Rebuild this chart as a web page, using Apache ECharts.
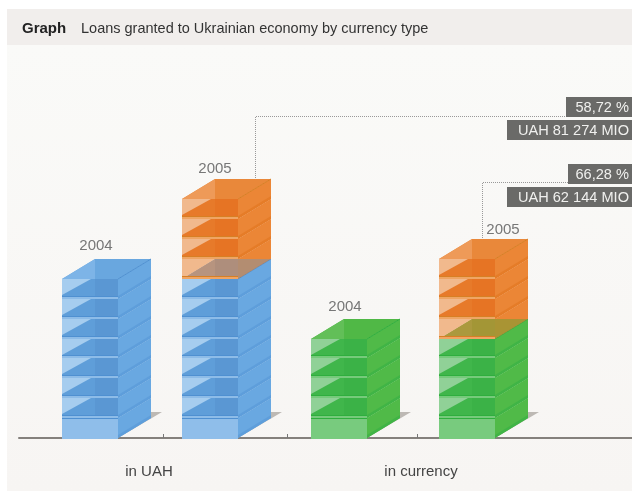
<!DOCTYPE html>
<html><head><meta charset="utf-8">
<script src="https://cdn.jsdelivr.net/npm/echarts@6/dist/echarts.min.js"></script>
<style>html,body{margin:0;padding:0;background:#fff}#c{width:632px;height:491px}</style></head>
<body><div id="c"></div>
<script>
// ---- data (heights read as number of stacked blocks) ----
const groups = ['in UAH', 'in currency'];
const years = ['2004', '2005', '2004', '2005'];
const baseBlocks = [8, 8, 5, 5];
const growthBlocks = [0, 4, 0, 4];
const percentLabels = ['58,72 %', '66,28 %'];
const amountLabels = ['UAH 81 274 MIO', 'UAH 62 144 MIO'];

// ---- layout / style (separate from data) ----
const W = 56, DX = 33, DY = 20;
const barNudge = [6, 1, 5, 8];
const yearDx = [34, 33, 34, 64];
const yearGap = [13, 10, 12, 9];
const leaders = {1: {dx: 73, y: 116, end: 566}, 3: {dx: 43, y: 182, end: 568}};
const pal = {
  blue:   {top:'#69a7df', topL:'#7db4e7', side:'#69a8e1', sideLow:'#5e9edb', front:'#5f9ed9', back:'#5a97d3', gloss:'#a6cdef', low:'#8fbeea', gap:'#8dbce8', edge:'#4f90d1', hi:'#dbe9f6'},
  green:  {top:'#50b846', topL:'#62bf58', side:'#50ba48', sideLow:'#40b446', front:'#40b64b', back:'#3bb247', gloss:'#90d197', low:'#78cb7e', gap:'#76ca7b', edge:'#2fae3e', hi:'#d5ecd5'},
  orange: {top:'#e9883a', topL:'#ee9a58', side:'#eb8636', sideLow:'#e57c28', front:'#e77a2a', back:'#e67424', gloss:'#f1b98d', low:'#f1bb90', gap:'#efa564', edge:'#d77f24', hi:'#f6dcc0'}
};
const baseColor = ['blue', 'blue', 'green', 'green'];

function poly(points, fill, opacity) {
  return {type:'polygon', shape:{points}, style:{fill, opacity: opacity == null ? 1 : opacity}, silent:true};
}
function rect(x, y, width, height, fill) {
  return {type:'rect', shape:{x, y, width, height}, style:{fill}, silent:true};
}
function stackRenderer(kind) {
  return function (params, api) {
    const i = api.value(0), start = api.value(1), end = api.value(2);
    const out = [];
    if (end <= start) return {type:'group', children:out};
    const cx = api.coord([i + 0.5, 0])[0];
    const x0 = Math.round(cx - (W + DX) / 2 + barNudge[i]), x1 = x0 + W;
    const c = pal[kind === 'growth' ? 'orange' : baseColor[i]];
    if (kind === 'base') {
      const by = api.coord([0, 0])[1];
      out.push(poly([[x1, by], [x1 + DX + 11, by - 26], [x1 + DX, by - 26]], '#bdb9b4'));
    }
    for (let k = start; k < end; k++) {
      const yb = Math.round(api.coord([0, k])[1]), yt = Math.round(api.coord([0, k + 1])[1]);
      const overlay = kind === 'growth' && k === start;
      const first = kind === 'base' && k === start;
      // side face
      if (overlay) {
        out.push(poly([[x1, yt], [x1 + DX, yt], [x1 + DX, yt - DY]], c.side));
        out.push(poly([[x1, yb], [x1 + DX, yt], [x1, yt]], c.sideLow, 0.6));
      } else {
        out.push(poly([[x1, yb], [x1 + DX, yb - DY], [x1 + DX, yt - DY], [x1, yt]], c.side));
        out.push(poly([[x1, yb], [x1 + DX, yb - DY], [x1 + DX, yb - DY - 3], [x1, yb - 3]], c.sideLow));
      }
      // front face
      if (overlay) {
        out.push(poly([[x0, yt], [x0 + DX, yt], [x0, yb]], c.gloss));
        out.push(poly([[x0, yb], [x1, yb], [x1, yt], [x0 + DX, yt]], c.front, 0.55));
      } else if (first) {
        out.push(rect(x0, yt, W, yb - yt + 1, c.low));
        out.push(rect(x0, yt, W, 1, c.edge));
      } else {
        out.push(rect(x0, yt, W, yb - yt, c.front));
        out.push(poly([[x0, yt], [x0 + 29, yt], [x0, yt + 16]], c.gloss));
        out.push(rect(x0 + DX, yt, W - DX, yb - yt - 2, c.back));
      }
      // separators between blocks
      if (!first) {
        out.push(rect(x0, yb - 3, W, 1, c.edge));
        out.push(rect(x0, yb - 2, W, 2, c.gap));
      }
      if (k === end - 1) {
        out.push(poly([[x0, yt], [x1, yt], [x1 + DX, yt - DY], [x0 + DX, yt - DY]], c.top));
        out.push(poly([[x0, yt], [x0 + DX, yt - DY], [x0 + DX, yt]], c.topL));
        out.push({type:'line', shape:{x1:x1, y1:yt, x2:x1 + DX, y2:yt - DY}, style:{stroke:c.edge, lineWidth:1}, silent:true});
      }
    }
    const isTopOfBar = kind === 'growth' || growthBlocks[i] === 0;
    if (isTopOfBar) {
      const ty = Math.round(api.coord([0, end])[1]) - DY;
      out.push({type:'text', style:{text: years[i], x: x0 + yearDx[i], y: ty - yearGap[i], align:'center', verticalAlign:'middle',
        fill:'#777', font:'15px "Liberation Sans"'}, silent:true});
      const l = leaders[i];
      if (l) {
        out.push({type:'polyline', shape:{points:[[x0 + l.dx + 0.5, ty - 1], [x0 + l.dx + 0.5, l.y + 0.5], [l.end, l.y + 0.5]]},
          style:{stroke:'#999', lineWidth:1, lineDash:[1, 1], fill:null}, silent:true});
      }
    }
    return {type:'group', children:out};
  };
}

const idx = years.map((_, i) => i);
const baseData = idx.map(i => [i, 0, baseBlocks[i]]);
const growthData = idx.map(i => [i, baseBlocks[i], baseBlocks[i] + growthBlocks[i]]);

function box(x, y, w, h, label) {
  return {type:'group', silent:true, children:[
    {type:'rect', shape:{x, y, width:w, height:h}, style:{fill:'#6a6a68'}},
    {type:'text', style:{text:label, x:629, y:y + h / 2 + 0.5, align:'right', verticalAlign:'middle', fill:'#f0f0ee', font:'14.6px "Liberation Sans"'}}
  ]};
}

const chart = echarts.init(document.getElementById('c'), null, {renderer:'canvas'});
chart.setOption({
  animation:false,
  backgroundColor:'#fff',
  graphic:[
    {type:'rect', z:-10, silent:true, shape:{x:7, y:45, width:625, height:446},
     style:{fill:new echarts.graphic.LinearGradient(0,0,0,1,[{offset:0,color:'#fafaf8'},{offset:1,color:'#f7f5f3'}])}},
    {type:'rect', z:-10, silent:true, shape:{x:7, y:9, width:625, height:36}, style:{fill:'#f1eeec'}},
    {type:'text', silent:true, style:{text:'Graph', x:22, y:29, verticalAlign:'middle', fill:'#222', font:'bold 15px "Liberation Sans"'}},
    {type:'text', silent:true, style:{text:'Loans granted to Ukrainian economy by currency type', x:81, y:29, verticalAlign:'middle', fill:'#333', font:'14.5px "Liberation Sans"'}},
    box(566, 97, 66, 20, percentLabels[0]),
    box(507, 120, 125, 20, amountLabels[0]),
    box(568, 164, 64, 20, percentLabels[1]),
    box(507, 187, 125, 20, amountLabels[1])
  ],
  grid:[
    {left:19, width:613, top:40, height:398, containLabel:false},
    {left:13, width:544, top:40, height:398}
  ],
  xAxis:[
    {type:'value', gridIndex:0, min:-0.152, max:4.752, splitLine:{show:false}, axisLabel:{show:false},
     axisLine:{show:true, onZero:false, lineStyle:{color:'#84807c', width:2}},
     axisTick:{show:true, inside:true, length:4, customValues:[1, 1.995, 3.03], lineStyle:{color:'#777', width:1}}},
    {type:'category', gridIndex:1, data:groups, axisLine:{show:false}, axisTick:{show:false},
     axisLabel:{show:true, margin:26, color:'#444', fontSize:15, fontFamily:'Liberation Sans'}}
  ],
  yAxis:[
    {type:'value', gridIndex:0, min:0, max:20, show:false},
    {type:'value', gridIndex:1, min:0, max:20, show:false}
  ],
  series:[
    {type:'custom', xAxisIndex:0, yAxisIndex:0, clip:false, z:2, renderItem:stackRenderer('base'), data:baseData},
    {type:'custom', xAxisIndex:0, yAxisIndex:0, clip:false, z:3, renderItem:stackRenderer('growth'), data:growthData}
  ]
});
</script></body></html>
